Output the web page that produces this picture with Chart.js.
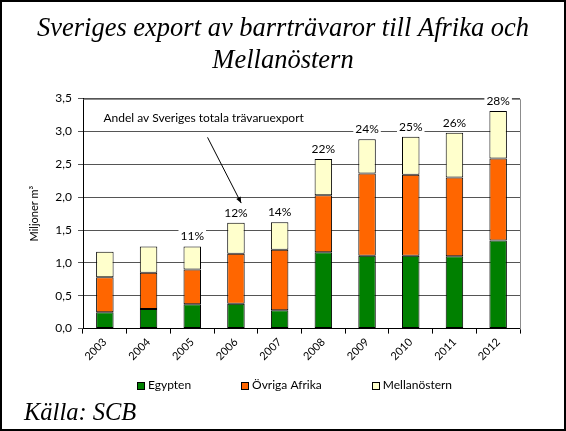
<!DOCTYPE html>
<html>
<head>
<meta charset="utf-8">
<script src="https://cdn.jsdelivr.net/npm/chart.js@4"></script>
<style>
html,body{margin:0;padding:0;background:#fff;}
#wrap{width:566px;height:431px;position:relative;}
</style>
</head>
<body>
<div id="wrap"><canvas id="c" width="566" height="431"></canvas></div>
<script>
// ---- data ----
const years = ['2003','2004','2005','2006','2007','2008','2009','2010','2011','2012'];
const egypten = [0.25, 0.30, 0.37, 0.38, 0.28, 1.16, 1.11, 1.11, 1.10, 1.34];
const ovrigaAfrika = [0.53, 0.55, 0.53, 0.76, 0.92, 0.87, 1.25, 1.23, 1.20, 1.25];
const mellanostern = [0.39, 0.40, 0.35, 0.47, 0.42, 0.55, 0.52, 0.58, 0.68, 0.72];
const andelLabels = [null, null, '11%', '12%', '14%', '22%', '24%', '25%', '26%', '28%'];
const yTicks = [0, 0.5, 1.0, 1.5, 2.0, 2.5, 3.0, 3.5];

const titleLines = ['Sveriges export av barrträvaror till Afrika och', 'Mellanöstern'];
const noteText = 'Andel av Sveriges totala trävaruexport';
const sourceText = 'Källa: SCB';

// annotation anchor in data space (category index, value)
const noteAt = {x: 2.26, y: 3.21};
const arrowFrom = {x: 2.35, y: 2.91};
const arrowTo = {x: 3.12, y: 1.91};

const SANS = 'Lato, "Liberation Sans", sans-serif';
const SERIF = '"Liberation Serif", "DejaVu Serif", serif';

const extras = {
  id: 'extras',
  beforeDraw(chart) {
    const ctx = chart.ctx;
    ctx.save();
    ctx.fillStyle = '#fff';
    ctx.fillRect(0, 0, chart.width, chart.height);
    ctx.restore();
  },
  afterDatasetsDraw(chart) {
    const ctx = chart.ctx;
    const xs = chart.scales.x, ys = chart.scales.y;
    const a = chart.chartArea;
    ctx.save();
    // plot area border top/right
    ctx.strokeStyle = '#8c8c8c';
    ctx.lineWidth = 1;
    ctx.beginPath();
    ctx.moveTo(Math.round(a.left) + 0.5, Math.round(a.top) + 0.5);
    ctx.lineTo(Math.round(a.right) + 0.5, Math.round(a.top) + 0.5);
    ctx.lineTo(Math.round(a.right) + 0.5, Math.round(a.bottom) + 0.5);
    ctx.stroke();

    // percentage labels
    ctx.font = '12px ' + SANS;
    ctx.textAlign = 'center';
    ctx.textBaseline = 'middle';
    years.forEach((y, i) => {
      const lbl = andelLabels[i];
      if (!lbl) return;
      const total = egypten[i] + ovrigaAfrika[i] + mellanostern[i];
      const px = xs.getPixelForValue(i);
      const py = ys.getPixelForValue(total) - 10;
      const w = ctx.measureText(lbl).width + 4;
      ctx.fillStyle = '#fff';
      ctx.fillRect(px - w / 2, py - 7, w, 14);
      ctx.fillStyle = '#000';
      ctx.fillText(lbl, px, py);
    });

    // note text
    const nx = xs.getPixelForValue(noteAt.x), ny = ys.getPixelForValue(noteAt.y);
    const nw = ctx.measureText(noteText).width + 8;
    ctx.fillStyle = '#fff';
    ctx.fillRect(nx - nw / 2, ny - 8, nw, 16);
    ctx.fillStyle = '#000';
    ctx.fillText(noteText, nx, ny);

    // arrow
    const x1 = xs.getPixelForValue(arrowFrom.x), y1 = ys.getPixelForValue(arrowFrom.y);
    const x2 = xs.getPixelForValue(arrowTo.x), y2 = ys.getPixelForValue(arrowTo.y);
    ctx.strokeStyle = '#000';
    ctx.lineWidth = 1;
    ctx.beginPath();
    ctx.moveTo(x1, y1);
    ctx.lineTo(x2, y2);
    ctx.stroke();
    const ang = Math.atan2(y2 - y1, x2 - x1);
    const hl = 6, hw = 2.5;
    ctx.beginPath();
    ctx.moveTo(x2, y2);
    ctx.lineTo(x2 - hl * Math.cos(ang) + hw * Math.sin(ang), y2 - hl * Math.sin(ang) - hw * Math.cos(ang));
    ctx.lineTo(x2 - hl * Math.cos(ang) - hw * Math.sin(ang), y2 - hl * Math.sin(ang) + hw * Math.cos(ang));
    ctx.closePath();
    ctx.fillStyle = '#000';
    ctx.fill();

    // legend (drawn manually to allow wide spacing)
    const ds = chart.data.datasets;
    ctx.font = '12px ' + SANS;
    ctx.textAlign = 'left';
    ctx.textBaseline = 'middle';
    const box = 7, gapText = 4, gapItem = 50;
    const widths = ds.map(d => box + gapText + ctx.measureText(d.label).width);
    const total = widths.reduce((s, w) => s + w, 0) + gapItem * (ds.length - 1);
    let lx = (a.left + a.right) / 2 - 7 - total / 2;
    const ly = a.bottom + 57;
    ds.forEach((d, i) => {
      ctx.fillStyle = d.backgroundColor;
      ctx.fillRect(Math.round(lx) + 0.5, Math.round(ly - box / 2) + 0.5, box, box);
      ctx.strokeStyle = '#000';
      ctx.lineWidth = 1;
      ctx.strokeRect(Math.round(lx) + 0.5, Math.round(ly - box / 2) + 0.5, box, box);
      ctx.fillStyle = '#000';
      ctx.fillText(d.label, lx + box + gapText, ly);
      lx += widths[i] + gapItem;
    });
    ctx.restore();
  },
  afterDraw(chart) {
    const ctx = chart.ctx;
    ctx.save();
    ctx.strokeStyle = '#000';
    ctx.lineWidth = 2;
    ctx.strokeRect(1, 1, chart.width - 2, chart.height - 2);
    ctx.restore();
  }
};

const barStyle = {borderColor: '#000', borderWidth: 1, borderSkipped: false, barPercentage: 0.4, categoryPercentage: 1.0};

new Chart(document.getElementById('c'), {
  type: 'bar',
  data: {
    labels: years,
    datasets: [
      Object.assign({label: 'Egypten', data: egypten, backgroundColor: '#008000'}, barStyle),
      Object.assign({label: 'Övriga Afrika', data: ovrigaAfrika, backgroundColor: '#ff6600'}, barStyle),
      Object.assign({label: 'Mellanöstern', data: mellanostern, backgroundColor: '#ffffcc'}, barStyle)
    ]
  },
  options: {
    responsive: false,
    animation: false,
    devicePixelRatio: 1,
    layout: {padding: {left: 24, right: 24, top: 0, bottom: 0}},
    plugins: {
      title: {
        display: true,
        text: titleLines,
        color: '#000',
        font: {family: SERIF, size: 26.5, style: 'italic', weight: 'normal', lineHeight: 1.2},
        padding: {top: 13, bottom: 22}
      },
      subtitle: {
        display: true,
        position: 'bottom',
        align: 'start',
        text: sourceText,
        color: '#000',
        font: {family: SERIF, size: 24.5, style: 'italic', weight: 'normal', lineHeight: 1.2},
        padding: {top: 37, bottom: 3}
      },
      legend: {display: false},
      tooltip: {enabled: false}
    },
    scales: {
      x: {
        stacked: true,
        afterFit(scale) { scale.height = 33; },
        grid: {drawOnChartArea: false, drawTicks: true, tickLength: 5, color: '#000', offset: true},
        border: {color: '#000'},
        ticks: {color: '#000', font: {family: SANS, size: 11}, minRotation: 45, maxRotation: 45, padding: 2}
      },
      y: {
        stacked: true,
        min: 0, max: 3.5,
        afterBuildTicks(scale) { scale.ticks = yTicks.map(v => ({value: v})); },
        afterFit(scale) { scale.width = 59; },
        grid: {color: '#555', tickLength: 5},
        border: {color: '#000'},
        ticks: {
          color: '#000', font: {family: SANS, size: 12}, padding: 6,
          callback: v => v.toFixed(1).replace('.', ',')
        },
        title: {display: true, text: 'Miljoner m³', color: '#000', font: {family: SANS, size: 11}, padding: {top: 4, bottom: 4}}
      },
      yRight: {
        position: 'right',
        min: 0, max: 3.5,
        afterFit(scale) { scale.width = 22; },
        grid: {drawOnChartArea: false, drawTicks: false},
        border: {display: false},
        ticks: {display: false}
      }
    }
  },
  plugins: [extras]
});
</script>
</body>
</html>
